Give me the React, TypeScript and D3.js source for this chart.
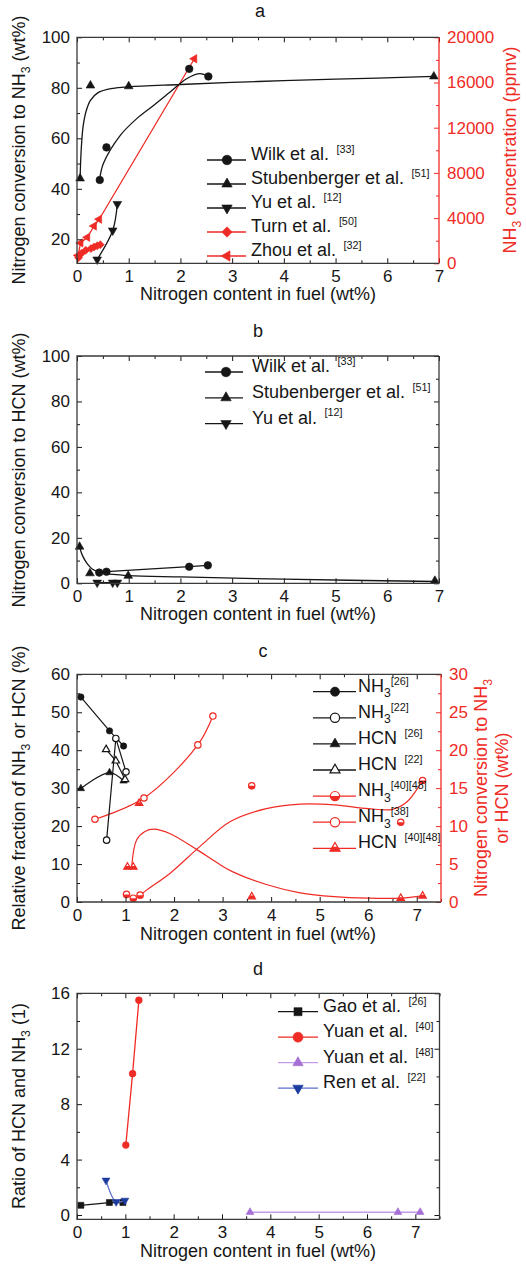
import React, { useEffect, useRef } from "react";
import * as d3 from "d3";

const W = 526;
const H = 1265;
const FONT = "'Liberation Sans', Arial, Helvetica, sans-serif";
const INK = "#161616";
const FRAME = "#3a3a3a";
const RED = "#ef2b25";
const PURPLE = "#a66fd6";
const PURPLE_LINE = "#c49be8";
const BLUE = "#1c3b9f";
const BLUE_LINE = "#5d6fcb";

// ---------- ticks ----------
const xTicks = [0, 1, 2, 3, 4, 5, 6, 7];
const xMinor7 = [0.5, 1.5, 2.5, 3.5, 4.5, 5.5, 6.5];
const xMinor75 = [0.5, 1.5, 2.5, 3.5, 4.5, 5.5, 6.5, 7.5];
const aLeftTicks = [20, 40, 60, 80, 100];
const aLeftMinor = [30, 50, 70, 90];
const aRightTicks = [0, 4000, 8000, 12000, 16000, 20000];
const aRightMinor = [2000, 6000, 10000, 14000, 18000];
const bTicks = [0, 20, 40, 60, 80, 100];
const bMinor = [10, 30, 50, 70, 90];
const cLeftTicks = [0, 10, 20, 30, 40, 50, 60];
const cLeftMinor = [5, 15, 25, 35, 45, 55];
const cRightTicks = [0, 5, 10, 15, 20, 25, 30];
const cRightMinor = [2.5, 7.5, 12.5, 17.5, 22.5, 27.5];
const dTicks = [0, 4, 8, 12, 16];
const dMinor = [2, 6, 10, 14];

// ---------- panel a ----------
const aWilkX = [0.44, 0.57, 2.17, 2.54];
const aWilkY = [43.5, 56.4, 87.5, 84.5];
const aWilkFitX = [0.44, 0.51, 0.83, 1.15, 1.48, 1.8, 2.12, 2.38, 2.54];
const aWilkFitY = [44, 50, 61, 67.7, 73, 78.3, 83.6, 85.6, 84.5];
const aStubX = [0.06, 0.26, 1.0, 6.9];
const aStubY = [44.1, 80.9, 80.6, 84.5];
const aStubFitX = [0.06, 0.08, 0.12, 0.18, 0.26, 0.4, 0.7, 1.0, 2.0, 3.5, 5.0, 6.9];
const aStubFitY = [44, 55, 65, 71, 75, 78, 79.8, 80.4, 81.3, 82.5, 83.4, 84.5];
const aYuX = [0.39, 0.69, 0.78];
const aYuY = [12, 23.5, 34];
const aTurnX = [0.03, 0.09, 0.17, 0.27, 0.33, 0.39, 0.45];
const aTurnPpm = [500, 900, 1150, 1300, 1450, 1550, 1650];
const aZhouX = [0.02, 0.07, 0.2, 0.33, 0.43, 2.27];
const aZhouPpm = [700, 1800, 2300, 3300, 3900, 18100];

// ---------- panel b ----------
const bWilkX = [0.43, 0.57, 2.17, 2.53];
const bWilkY = [4.7, 5.1, 7.3, 7.9];
const bStubX = [0.05, 0.25, 0.99, 6.92];
const bStubY = [16.1, 4.4, 3.3, 1.1];
const bStubFitX = [0.05, 0.1, 0.2, 0.3, 0.45, 0.7, 1.0, 2.0, 4.0, 6.92];
const bStubFitY = [16, 12.5, 8.5, 6.2, 4.8, 3.9, 3.4, 2.8, 1.8, 0.8];
const bYuX = [0.39, 0.69, 0.78];
const bYuY = [0.3, 0.3, 0.3];

// ---------- panel c ----------
const cNH3g26X = [0.08, 0.67, 0.96];
const cNH3g26Y = [54.0, 45.1, 41.1];
const cNH3r22X = [0.61, 0.8, 1.01];
const cNH3r22Y = [16.3, 43.1, 34.3];
const cHCNg26X = [0.08, 0.67, 0.96];
const cHCNg26Y = [29.9, 34.1, 31.9];
const cHCNr22X = [0.6, 0.8, 0.99];
const cHCNr22Y = [40.2, 37.2, 32.3];
const cNH3y4048X = [1.02, 1.16, 1.3, 3.6, 6.67, 7.12];
const cNH3y4048Y = [1.0, 0.5, 0.9, 15.3, 10.5, 16.0];
const cNH3y4048FitX = [1.3, 1.44, 1.92, 2.53, 3.16, 3.9, 4.6, 5.3, 6.0, 6.5, 6.8, 7.12];
const cNH3y4048FitY = [0.9, 1.6, 3.8, 7.3, 10.6, 12.3, 12.9, 12.8, 12.3, 12.2, 13.2, 16.0];
const cNH3k38X = [0.37, 1.38, 2.49, 2.8];
const cNH3k38Y = [10.9, 13.7, 20.7, 24.5];
const cHCNy4048X = [1.04, 1.16, 1.28, 3.6, 6.67, 7.12];
const cHCNy4048Y = [4.6, 4.6, 13.0, 0.7, 0.5, 0.8];
const cHCNy4048FitX = [1.13, 1.23, 1.4, 1.58, 1.92, 2.47, 2.88, 3.2, 3.9, 4.6, 5.3, 6.0, 6.67, 7.12];
const cHCNy4048FitY = [4.9, 8.2, 9.3, 9.6, 9.0, 6.9, 5.2, 4.0, 2.3, 1.2, 0.7, 0.5, 0.5, 0.8];

// ---------- panel d ----------
const dGaoX = [0.08, 0.67, 0.95];
const dGaoY = [0.7, 0.9, 0.9];
const dYuan40X = [1.01, 1.15, 1.28];
const dYuan40Y = [5.05, 10.2, 15.5];
const dYuan48X = [3.58, 6.64, 7.1];
const dYuan48Y = [0.2, 0.2, 0.2];
const dRenX = [0.6, 0.81, 0.99];
const dRenY = [2.5, 0.95, 1.05];

type Part = { t: string; k?: "sub" | "sup" };

function rich(sel: any, parts: Part[], fs: number) {
  let off = 0;
  parts.forEach((p, i) => {
    const target = p.k === "sub" ? fs * 0.3 : p.k === "sup" ? -fs * 0.4 : 0;
    const ts = sel.append("tspan").attr("dy", target - off).text(p.t);
    if (p.k) ts.attr("font-size", fs * (p.k === "sub" ? 0.68 : 0.6));
    if (p.k === "sup" && i > 0 && parts[i - 1].t.endsWith(" ")) ts.attr("dx", 2.5);
    off = target;
  });
}

function shapePath(kind: string, r: number): string {
  switch (kind) {
    case "circle":
      return d3.symbol(d3.symbolCircle, Math.PI * r * r)() as string;
    case "triUp":
      return `M0,${-r}L${0.866 * r},${0.5 * r}L${-0.866 * r},${0.5 * r}Z`;
    case "triDown":
      return `M0,${r}L${0.866 * r},${-0.5 * r}L${-0.866 * r},${-0.5 * r}Z`;
    case "triLeft":
      return `M${-r},0L${0.5 * r},${-0.866 * r}L${0.5 * r},${0.866 * r}Z`;
    case "diamond":
      return `M0,${-r}L${r},0L0,${r}L${-r},0Z`;
    case "square":
      return `M${-r},${-r}H${r}V${r}H${-r}Z`;
  }
  return "";
}

function marker(g: any, kind: string, x: number, y: number, r: number, color: string, mode: string) {
  const d = shapePath(kind, r);
  if (mode === "solid") {
    g.append("path").attr("d", d).attr("transform", `translate(${x},${y})`)
      .attr("fill", color).attr("stroke", color).attr("stroke-width", 0.6);
  } else {
    g.append("path").attr("d", d).attr("transform", `translate(${x},${y})`)
      .attr("fill", "#fff").attr("stroke", color).attr("stroke-width", 1.2);
    if (mode === "half") {
      g.append("path").attr("d", d).attr("transform", `translate(${x},${y})`)
        .attr("fill", color).attr("clip-path", "url(#halfClip)");
    }
  }
}

function series(g: any, xs: number[], ys: number[], sx: any, sy: any, o: any) {
  const pts = d3.zip(xs, ys) as [number, number][];
  if (o.line !== false) {
    const fx = o.fitX ? (d3.zip(o.fitX, o.fitY) as [number, number][]) : pts;
    const ln = d3.line<[number, number]>()
      .x((d) => sx(d[0])).y((d) => sy(d[1]))
      .curve(o.smooth ? d3.curveCatmullRom.alpha(0.5) : d3.curveLinear);
    g.append("path").attr("d", ln(fx)).attr("fill", "none")
      .attr("stroke", o.lineColor || o.color).attr("stroke-width", o.lw || 1.3);
  }
  pts.forEach((p) => marker(g, o.kind, sx(p[0]), sy(p[1]), o.r, o.color, o.mode || "solid"));
}

function styleAxis(sel: any, color: string, labels: boolean) {
  sel.select(".domain").remove();
  sel.selectAll(".tick line").attr("stroke", color).attr("stroke-width", 1);
  if (labels) {
    sel.selectAll("text").attr("font-size", 17).attr("font-family", FONT).attr("fill", color);
  } else {
    sel.selectAll("text").remove();
  }
}

function axes(g: any, x: any, y: any, o: any) {
  const [yB, yT] = y.range();
  const [xL, xR] = x.range();
  const fmt = d3.format("d");
  const add = (gen: any, tr: string, color: string, labels: boolean) => {
    const s = g.append("g").attr("transform", tr).call(gen);
    styleAxis(s, color, labels);
  };
  add(d3.axisBottom(x).tickValues(o.xt).tickSizeInner(-5).tickSizeOuter(0).tickPadding(7).tickFormat(fmt), `translate(0,${yB})`, INK, true);
  add(d3.axisBottom(x).tickValues(o.xm).tickSizeInner(-3).tickSizeOuter(0), `translate(0,${yB})`, INK, false);
  add(d3.axisTop(x).tickValues(o.xt).tickSizeInner(-5).tickSizeOuter(0), `translate(0,${yT})`, INK, false);
  add(d3.axisTop(x).tickValues(o.xm).tickSizeInner(-3).tickSizeOuter(0), `translate(0,${yT})`, INK, false);
  add(d3.axisLeft(y).tickValues(o.yt).tickSizeInner(-5).tickSizeOuter(0).tickPadding(7).tickFormat(fmt), `translate(${xL},0)`, INK, true);
  add(d3.axisLeft(y).tickValues(o.ym).tickSizeInner(-3).tickSizeOuter(0), `translate(${xL},0)`, INK, false);
  const ry = o.y2 || y;
  const rc = o.y2 ? RED : INK;
  add(d3.axisRight(ry).tickValues(o.y2 ? o.y2t : o.yt).tickSizeInner(-5).tickSizeOuter(0).tickPadding(8).tickFormat(fmt), `translate(${xR},0)`, rc, !!o.y2);
  add(d3.axisRight(ry).tickValues(o.y2 ? o.y2m : o.ym).tickSizeInner(-3).tickSizeOuter(0), `translate(${xR},0)`, rc, false);
  g.append("path").attr("d", `M${xR},${yT}H${xL}V${yB}H${xR}`).attr("fill", "none").attr("stroke", FRAME).attr("stroke-width", 1.3);
  g.append("line").attr("x1", xR).attr("x2", xR).attr("y1", yT).attr("y2", yB).attr("stroke", o.y2 ? RED : FRAME).attr("stroke-width", 1.3);
}

function textAt(g: any, x: number, y: number, parts: Part[], fs: number, color: string, rotate = false, anchor = "middle") {
  const t = g.append("text")
    .attr("x", 0).attr("y", 0)
    .attr("transform", rotate ? `translate(${x},${y}) rotate(-90)` : `translate(${x},${y})`)
    .attr("text-anchor", anchor).attr("font-size", fs).attr("font-family", FONT)
    .attr("fill", color).style("white-space", "pre");
  const inner = t.append("tspan").attr("dy", "0.35em");
  rich(inner, parts, fs);
  return t;
}

function legend(g: any, items: any[], o: any) {
  items.forEach((it, i) => {
    const y = o.y0 + i * o.dy;
    g.append("line").attr("x1", o.x0).attr("x2", o.x1).attr("y1", y).attr("y2", y)
      .attr("stroke", it.lineColor || it.color).attr("stroke-width", 1.3);
    marker(g, it.kind, o.xm, y, it.r, it.color, it.mode || "solid");
    textAt(g, o.xt, y, it.parts, 18, INK, false, "start");
  });
}

function draw(svg: any) {
  svg.append("defs").append("clipPath").attr("id", "halfClip")
    .attr("clipPathUnits", "objectBoundingBox")
    .append("rect").attr("x", -0.2).attr("y", 0.5).attr("width", 1.4).attr("height", 0.7);
  svg.append("rect").attr("width", W).attr("height", H).attr("fill", "#fff");

  const xTitle: Part[] = [{ t: "Nitrogen content in fuel (wt%)" }];

  // ===== Panel a =====
  {
    const g = svg.append("g");
    const x = d3.scaleLinear().domain([0, 7]).range([77, 439]);
    const y = d3.scaleLinear().domain([10.5, 100]).range([263.3, 37.3]);
    const y2 = d3.scaleLinear().domain([0, 20000]).range([263.3, 37.3]);
    series(g, aZhouX, aZhouPpm, x, y2, { kind: "triLeft", r: 4.8, color: RED });
    series(g, aTurnX, aTurnPpm, x, y2, { kind: "diamond", r: 4, color: RED });
    series(g, aStubX, aStubY, x, y, { kind: "triUp", r: 5, color: INK, fitX: aStubFitX, fitY: aStubFitY, smooth: true });
    series(g, aWilkX, aWilkY, x, y, { kind: "circle", r: 3.8, color: INK, fitX: aWilkFitX, fitY: aWilkFitY, smooth: true });
    series(g, aYuX, aYuY, x, y, { kind: "triDown", r: 5, color: INK, smooth: true });
    axes(g, x, y, { xt: xTicks, xm: xMinor7, yt: aLeftTicks, ym: aLeftMinor, y2, y2t: aRightTicks, y2m: aRightMinor });
    legend(g, [
      { kind: "circle", r: 4.8, color: INK, parts: [{ t: "Wilk et al. " }, { t: "[33]", k: "sup" }] },
      { kind: "triUp", r: 6, color: INK, parts: [{ t: "Stubenberger et al. " }, { t: "[51]", k: "sup" }] },
      { kind: "triDown", r: 6, color: INK, parts: [{ t: "Yu et al. " }, { t: "[12]", k: "sup" }] },
      { kind: "diamond", r: 5.2, color: RED, parts: [{ t: "Turn et al. " }, { t: "[50]", k: "sup" }] },
      { kind: "triLeft", r: 6, color: RED, parts: [{ t: "Zhou et al. " }, { t: "[32]", k: "sup" }] },
    ], { x0: 207, x1: 246, xm: 227, xt: 251, y0: 160, dy: 24 });
    textAt(g, 260, 17, [{ t: "a" }], 18, INK);
    textAt(g, 258, 300, xTitle, 18, INK);
    textAt(g, 25, 150, [{ t: "Nitrogen conversion to NH" }, { t: "3", k: "sub" }, { t: " (wt%)" }], 18, INK, true);
    textAt(g, 516, 150, [{ t: "NH" }, { t: "3", k: "sub" }, { t: " concentration (ppmv)" }], 18, RED, true);
  }

  // ===== Panel b =====
  {
    const g = svg.append("g");
    const x = d3.scaleLinear().domain([0, 7]).range([77, 439]);
    const y = d3.scaleLinear().domain([0, 100]).range([583.3, 356]);
    series(g, bStubX, bStubY, x, y, { kind: "triUp", r: 5, color: INK, fitX: bStubFitX, fitY: bStubFitY, smooth: true });
    series(g, bWilkX, bWilkY, x, y, { kind: "circle", r: 3.8, color: INK });
    series(g, bYuX, bYuY, x, y, { kind: "triDown", r: 5, color: INK });
    axes(g, x, y, { xt: xTicks, xm: xMinor7, yt: bTicks, ym: bMinor });
    legend(g, [
      { kind: "circle", r: 4.8, color: INK, parts: [{ t: "Wilk et al. " }, { t: "[33]", k: "sup" }] },
      { kind: "triUp", r: 6, color: INK, parts: [{ t: "Stubenberger et al. " }, { t: "[51]", k: "sup" }] },
      { kind: "triDown", r: 6, color: INK, parts: [{ t: "Yu et al. " }, { t: "[12]", k: "sup" }] },
    ], { x0: 205, x1: 243, xm: 226, xt: 252, y0: 372, dy: 25.8 });
    textAt(g, 258, 337, [{ t: "b" }], 18, INK);
    textAt(g, 258, 620, xTitle, 18, INK);
    textAt(g, 25, 470, [{ t: "Nitrogen conversion to HCN (wt%)" }], 18, INK, true);
  }

  // ===== Panel c =====
  {
    const g = svg.append("g");
    const x = d3.scaleLinear().domain([0, 7.5]).range([77, 441]);
    const y = d3.scaleLinear().domain([0, 60]).range([902, 674.3]);
    const y2 = d3.scaleLinear().domain([0, 30]).range([902, 674.3]);
    series(g, cNH3y4048X, cNH3y4048Y, x, y2, { kind: "circle", r: 3.2, color: RED, mode: "half", fitX: cNH3y4048FitX, fitY: cNH3y4048FitY, smooth: true, lw: 1.2 });
    series(g, cHCNy4048X, cHCNy4048Y, x, y2, { kind: "triUp", r: 4.3, color: RED, mode: "half", fitX: cHCNy4048FitX, fitY: cHCNy4048FitY, smooth: true, lw: 1.2 });
    series(g, cNH3k38X, cNH3k38Y, x, y2, { kind: "circle", r: 3.2, color: RED, mode: "open", smooth: true, lw: 1.2 });
    series(g, cHCNg26X, cHCNg26Y, x, y, { kind: "triUp", r: 4.3, color: INK, smooth: true, lw: 1.2 });
    series(g, cHCNr22X, cHCNr22Y, x, y, { kind: "triUp", r: 4.3, color: INK, mode: "open", lw: 1.2 });
    series(g, cNH3g26X, cNH3g26Y, x, y, { kind: "circle", r: 3.2, color: INK, lw: 1.2 });
    series(g, cNH3r22X, cNH3r22Y, x, y, { kind: "circle", r: 3.2, color: INK, mode: "open", lw: 1.2 });
    axes(g, x, y, { xt: xTicks, xm: xMinor75, yt: cLeftTicks, ym: cLeftMinor, y2, y2t: cRightTicks, y2m: cRightMinor });
    legend(g, [
      { kind: "circle", r: 4.6, color: INK, parts: [{ t: "NH" }, { t: "3", k: "sub" }, { t: "[26]", k: "sup" }] },
      { kind: "circle", r: 4.6, color: INK, mode: "open", parts: [{ t: "NH" }, { t: "3", k: "sub" }, { t: "[22]", k: "sup" }] },
      { kind: "triUp", r: 5.8, color: INK, parts: [{ t: "HCN " }, { t: "[26]", k: "sup" }] },
      { kind: "triUp", r: 5.8, color: INK, mode: "open", parts: [{ t: "HCN " }, { t: "[22]", k: "sup" }] },
      { kind: "circle", r: 4.6, color: RED, mode: "half", parts: [{ t: "NH" }, { t: "3", k: "sub" }, { t: "[40][48]", k: "sup" }] },
      { kind: "circle", r: 4.6, color: RED, mode: "open", parts: [{ t: "NH" }, { t: "3", k: "sub" }, { t: "[38]", k: "sup" }] },
      { kind: "triUp", r: 5.8, color: RED, mode: "half", parts: [{ t: "HCN " }, { t: "[40][48]", k: "sup" }] },
    ], { x0: 313, x1: 356, xm: 335, xt: 358, y0: 691.7, dy: 26.1 });
    textAt(g, 263, 657, [{ t: "c" }], 18, INK);
    textAt(g, 258, 940, xTitle, 18, INK);
    textAt(g, 25, 788, [{ t: "Relative fraction of NH" }, { t: "3", k: "sub" }, { t: " or HCN (%)" }], 18, INK, true);
    textAt(g, 487, 788, [{ t: "Nitrogen conversion to NH" }, { t: "3", k: "sub" }], 18, RED, true);
    textAt(g, 508, 788, [{ t: "or HCN (wt%)" }], 18, RED, true);
  }

  // ===== Panel d =====
  {
    const g = svg.append("g");
    const x = d3.scaleLinear().domain([0, 7.5]).range([77, 439.5]);
    const y = d3.scaleLinear().domain([-0.31, 16]).range([1219.3, 993.3]);
    series(g, dYuan48X, dYuan48Y, x, y, { kind: "triUp", r: 4.5, color: PURPLE, lineColor: PURPLE_LINE });
    series(g, dYuan40X, dYuan40Y, x, y, { kind: "circle", r: 3.4, color: RED });
    series(g, dGaoX, dGaoY, x, y, { kind: "square", r: 3, color: INK });
    series(g, dRenX, dRenY, x, y, { kind: "triDown", r: 4.5, color: BLUE, lineColor: BLUE_LINE, smooth: true });
    axes(g, x, y, { xt: xTicks, xm: xMinor75, yt: dTicks, ym: dMinor });
    legend(g, [
      { kind: "square", r: 4, color: INK, parts: [{ t: "Gao et al. " }, { t: "[26]", k: "sup" }] },
      { kind: "circle", r: 5, color: RED, parts: [{ t: "Yuan et al. " }, { t: "[40]", k: "sup" }] },
      { kind: "triUp", r: 6, color: PURPLE, lineColor: PURPLE_LINE, parts: [{ t: "Yuan et al. " }, { t: "[48]", k: "sup" }] },
      { kind: "triDown", r: 6, color: BLUE, lineColor: BLUE_LINE, parts: [{ t: "Ren et al. " }, { t: "[22]", k: "sup" }] },
    ], { x0: 278, x1: 318, xm: 298, xt: 323, y0: 1011.7, dy: 25.5 });
    textAt(g, 258, 975, [{ t: "d" }], 18, INK);
    textAt(g, 258, 1256.5, xTitle, 18, INK);
    textAt(g, 25, 1106, [{ t: "Ratio of HCN and NH" }, { t: "3", k: "sub" }, { t: " (1)" }], 18, INK, true);
  }
}

export default function App() {
  const ref = useRef<SVGSVGElement>(null);
  useEffect(() => {
    const svg = d3.select(ref.current);
    svg.selectAll("*").remove();
    draw(svg);
  }, []);
  return (
    <svg
      ref={ref}
      width={W}
      height={H}
      style={{ display: "block", position: "absolute", left: 0, top: 0, background: "#fff" }}
    />
  );
}
